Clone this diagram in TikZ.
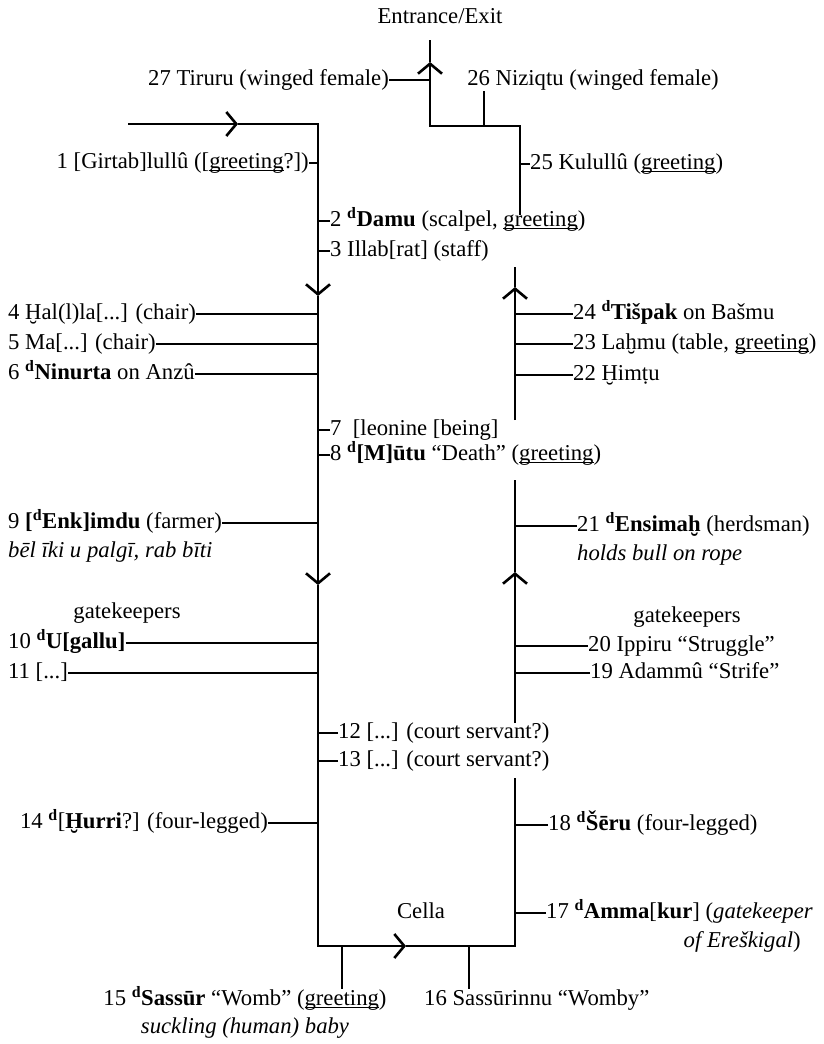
\documentclass[tikz,border=0pt]{standalone}
\usepackage{fontspec}
\setmainfont{Liberation Serif}
\usetikzlibrary{arrows.meta,positioning}
\newcommand{\lab}{\fontsize{22.7}{27}\selectfont}
\newcommand{\dingir}{\textsuperscript{\textbf{d}}}
\newcommand{\greet}{\underline{\smash{greeting}}}

\begin{document}
\begin{tikzpicture}[
  x=1pt, y=-1pt,
  lbl/.style={font=\lab, inner sep=0pt, text height=16pt, text depth=5pt},
  ital/.style={lbl, font=\lab\itshape},
  wall/.style={line width=2.6pt},
  lead/.style={line width=1.8pt},
  ar/.style={wall, -{Straight Barb[length=10pt,width=24pt]}}
]
  \useasboundingbox (0,0) rectangle (823,1044);
  % route through the rooms
  \coordinate (in)   at (128,124);
  \coordinate (inA)  at (238,124);
  \coordinate (nw)   at (318,124);
  \coordinate (dnA)  at (318,296);
  \coordinate (dnB)  at (318,585);
  \coordinate (sw)   at (318,946);
  \coordinate (btA)  at (406,946);
  \coordinate (se)   at (515,946);
  \coordinate (rDt)  at (515,778);
  \coordinate (rCb)  at (515,723);
  \coordinate (upC)  at (515,572);
  \coordinate (rCt)  at (515,480);
  \coordinate (rBb)  at (515,420);
  \coordinate (upB)  at (515,287);
  \coordinate (rBt)  at (515,267);
  \coordinate (rA)   at (520,215);
  \coordinate (stepR) at (520,126);
  \coordinate (exB)  at (430,126);
  \coordinate (exA)  at (430,62);
  \coordinate (exT)  at (430,40);
  \coordinate (s26)  at (484,126);
  \coordinate (s15)  at (342,946);
  \coordinate (s16)  at (469,946);

  \draw[ar] (in) -- (inA);
  \draw[ar] (inA) -- (nw) -- (dnA);
  \draw[ar] (dnA) -- (dnB);
  \draw[ar] (dnB) -- (sw) -- (btA);
  \draw[wall] (btA) -- (se) -- (rDt);
  \draw[ar] (rCb) -- (upC);
  \draw[wall] (upC) -- (rCt);
  \draw[ar] (rBb) -- (upB);
  \draw[wall] (upB) -- (rBt);
  \draw[ar] (rA) -- (stepR) -- (exB) -- (exA);
  \draw[wall] (exA) -- (exT);

  \node[lbl] (ent) at (440,18) {Entrance/Exit};
  \node[lbl] (cella) at (421,913) {Cella};

  % left side
  \node[lbl, anchor=east] (t27) at (389,80) {27 Tiruru (winged female)};
  \node[lbl, anchor=east] (t1) at (309,163) {1 [Girtab]lullû ([\greet?])};
  \node[lbl, anchor=west] (t2) at (330,221) {2 \dingir\textbf{Damu} (scalpel, \greet)};
  \node[lbl, anchor=west] (t3) at (330,251) {3 Illab[rat] (staff)};
  \node[lbl, anchor=west] (t4) at (8,314) {4 Ḫal(l)la[...] (chair)};
  \node[lbl, anchor=west] (t5) at (8,344) {5 Ma[...] (chair)};
  \node[lbl, anchor=west] (t6) at (8,374) {6 \dingir\textbf{Ninurta} on Anzû};
  \node[lbl, anchor=west] (t7) at (330,430) {7\ \ [leonine [being]};
  \node[lbl, anchor=west] (t8) at (330,455) {8 \dingir\textbf{[M]ūtu} “Death” (\greet)};
  \node[lbl, anchor=west] (t9) at (8,523) {9 \textbf{[\dingir Enk]imdu} (farmer)};
  \node[ital, below=8pt of t9.south west, anchor=north west] (t9b) {bēl īki u palgī, rab bīti};
  \node[lbl] (gkL) at (127,613) {gatekeepers};
  \node[lbl, anchor=west] (t10) at (8,643) {10 \dingir\textbf{U[gallu]}};
  \node[lbl, anchor=west] (t11) at (8,673) {11 [...]};
  \node[lbl, anchor=west] (t12) at (338,733) {12 [...] (court servant?)};
  \node[lbl, anchor=west] (t13) at (338,761) {13 [...] (court servant?)};
  \node[lbl, anchor=east] (t14) at (268,823) {14 \dingir[\textbf{Ḫurri}?] (four-legged)};

  % bottom
  \node[lbl] (t15) at (245,1000) {15 \dingir\textbf{Sassūr} “Womb” (\greet)};
  \node[ital, below=7pt of t15] (t15b) {suckling (human) baby};
  \node[lbl, anchor=west] (t16) at (424,1000) {16 Sassūrinnu “Womby”};

  % right side
  \node[lbl] (t26) at (593,80) {26 Niziqtu (winged female)};
  \node[lbl, anchor=west] (t25) at (530,164) {25 Kulullû (\greet)};
  \node[lbl, anchor=west] (t24) at (573,314) {24 \dingir\textbf{Tišpak} on Bašmu};
  \node[lbl, anchor=west] (t23) at (573,344) {23 Laḫmu (table, \greet)};
  \node[lbl, anchor=west] (t22) at (573,375) {22 Ḫimṭu};
  \node[lbl, anchor=west] (t21) at (577,526) {21 \dingir\textbf{Ensimaḫ} (herdsman)};
  \node[ital, below=8pt of t21.south west, anchor=north west] (t21b) {holds bull on rope};
  \node[lbl] (gkR) at (687,617) {gatekeepers};
  \node[lbl, anchor=west] (t20) at (588,646) {20 Ippiru “Struggle”};
  \node[lbl, anchor=west] (t19) at (590,673) {19 Adammû “Strife”};
  \node[lbl, anchor=west] (t18) at (548,825) {18 \dingir\textbf{Šēru} (four-legged)};
  \node[lbl, anchor=west] (t17) at (546,913) {17 \dingir\textbf{Amma}[\textbf{kur}] (\textit{gatekeeper}};
  \node[lbl, below=8pt of t17.south east, anchor=north east, xshift=-12pt] (t17b) {\textit{of Ereškigal})};

  \draw[wall] (t27.east) -- (t27.east -| exB);
  \draw[lead] (t1.east) -- (t1.east -| nw);
  \draw[lead] (t2.west) -- (t2.west -| nw);
  \draw[lead] (t3.west) -- (t3.west -| nw);
  \draw[lead] (t4.east) -- (t4.east -| nw);
  \draw[lead] (t5.east) -- (t5.east -| nw);
  \draw[lead] (t6.east) -- (t6.east -| nw);
  \draw[lead] (t7.west) -- (t7.west -| nw);
  \draw[lead] (t8.west) -- (t8.west -| nw);
  \draw[lead] (t9.east) -- (t9.east -| nw);
  \draw[lead] (t10.east) -- (t10.east -| nw);
  \draw[lead] (t11.east) -- (t11.east -| nw);
  \draw[lead] (t12.west) -- (t12.west -| nw);
  \draw[lead] (t13.west) -- (t13.west -| nw);
  \draw[lead] (t14.east) -- (t14.east -| nw);
  \draw[lead] (s15) -- (s15 |- t15.north);
  \draw[lead] (s16) -- (s16 |- t16.north);
  \draw[lead] (s26) -- (s26 |- t26.south);
  \draw[lead] (t25.west) -- (t25.west -| rA);
  \draw[lead] (t24.west) -- (t24.west -| rBt);
  \draw[lead] (t23.west) -- (t23.west -| rBt);
  \draw[lead] (t22.west) -- (t22.west -| rBt);
  \draw[lead] (t21.west) -- (t21.west -| rCt);
  \draw[lead] (t20.west) -- (t20.west -| rCt);
  \draw[lead] (t19.west) -- (t19.west -| rCt);
  \draw[lead] (t18.west) -- (t18.west -| rDt);
  \draw[lead] (t17.west) -- (t17.west -| rDt);
\end{tikzpicture}
\end{document}
